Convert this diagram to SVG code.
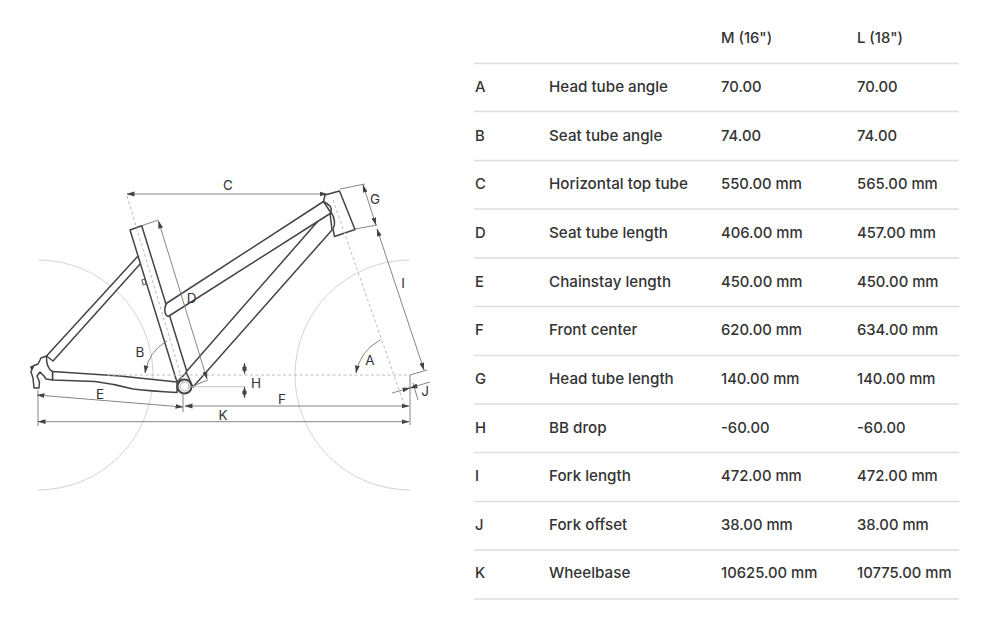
<svg xmlns="http://www.w3.org/2000/svg" width="1000" height="625" viewBox="0 0 1000 625">
<style>
text{font-family:"Inter","Liberation Sans",sans-serif;font-size:14.8px;font-weight:500;fill:#333}
.n{font-size:15.2px}
.lab{font-size:13.5px;font-weight:400;fill:#333;text-anchor:middle}
.rule{stroke:#ddd;stroke-width:1.3}
.wheel{fill:none;stroke:#d4d4d4;stroke-width:1}
.frame{fill:#fff;stroke:#444;stroke-width:1.5;stroke-linejoin:round}
.dash{fill:none;stroke:#bbb;stroke-width:1;stroke-dasharray:3 2.5}
.dim{fill:none;stroke:#777;stroke-width:.9}
.lite{fill:none;stroke:#bbb;stroke-width:.9}
.arr{marker-start:url(#a);marker-end:url(#a)}
.arre{marker-end:url(#a)}
</style>
<defs><marker id="a" viewBox="0 0 8 6" refX="7.500" refY="3" markerWidth="8" markerHeight="6" markerUnits="userSpaceOnUse" orient="auto-start-reverse"><path d="M0 .6L8 3L0 5.400z" fill="#444"/></marker></defs>
<rect width="1000" height="625" fill="#fff"/>
<g id="wheels">
<path class="wheel" d="M38 260A115 115 0 0 1 38 490"/>
<path class="wheel" d="M410 260A115 115 0 0 0 410 490"/>
</g>
<g id="frame">
<path class="frame" d="M138 256L141 263L53 361L46.500 356Z"/>
<path class="frame" d="M130 230L141.700 225.700L187 372L177 382Z"/>
<path class="frame" d="M318 221L186 372L193 387L332 230L330 213Z"/>
<path class="frame" d="M323.500 201.500L167 303Q164 307 165 312Q166 317 169 316L331 213Z"/>
<path class="frame" d="M325 195L339.500 191L355 229.500L334.500 236.500L333 229Q337 222 331 212Q333 206 323.500 201.500Z"/>
<path class="frame" d="M52.500 371.500L120 376L177 382L177 392.500Q150 391 133 389Q115 384 95 381.500L52.500 380Z"/>
<path class="frame" d="M46.500 356L41 358L38 364L33 366L31 372L33 378L34 388L39 388L39.500 382L37 376L40 372L44 376L46 379L52.500 380L52.500 371.500Q46 368 46.500 356Z"/>
<circle cx="32" cy="367.500" r="1.800" fill="#444"/>
<circle cx="184.500" cy="386.500" r="7" fill="#fff" stroke="#444" stroke-width="2"/>
<circle cx="184.500" cy="386.500" r="4.500" fill="none" stroke="#aaa" stroke-width="1"/>
<rect x="142.500" y="279.500" width="3" height="5" fill="none" stroke="#555" stroke-width="1" transform="rotate(-16 144 282)"/>
</g>
<g id="connectors">
<path class="dash" d="M127 196L184 386"/>
<path class="dash" d="M333 200L404 404"/>
<path class="dash" d="M107 375H407"/>
<path class="dim arr" d="M127 194H327"/>
<path class="dim" d="M141.700 225.700L158.500 220M193 386L208 380"/>
<path class="dim arr" d="M158.500 221L207 379"/>
<path class="dim arre" d="M167 341A45 45 0 0 0 145 373"/>
<path class="dim arr" d="M37 395L183 407"/>
<path class="dim" d="M38 390V426M183 392V412"/>
<path class="dim arr" d="M185 406H409"/>
<path class="dim arr" d="M38 421.700H409"/>
<path class="dim" d="M410 375V425"/>
<path class="lite" d="M189 386.700H245"/>
<path class="dim arr" d="M244.500 363V374"/>
<path class="dim arr" d="M244.500 386.700V398"/>
<path class="dim" d="M340 189L365 184M355 229L377 225"/>
<path class="dim arr" d="M363 185L376 225"/>
<path class="dim arr" d="M377 229L424 370"/>
<path class="dim" d="M410 375L427 370M413 383L418 400"/>
<path class="dim arre" d="M430 382L410 388"/>
<path class="dim arre" d="M392 393L410 388"/>
<path class="dim arre" d="M380 340A48 48 0 0 0 356 373"/>
</g>
<g id="labels">
<text class="lab" x="228" y="190">C</text>
<text class="lab" x="191.500" y="303">D</text>
<text class="lab" x="140" y="357">B</text>
<text class="lab" x="100" y="399">E</text>
<text class="lab" x="223" y="420">K</text>
<text class="lab" x="282" y="404">F</text>
<text class="lab" x="256" y="388">H</text>
<text class="lab" x="370" y="365">A</text>
<text class="lab" x="375" y="204">G</text>
<text class="lab" x="403" y="288">I</text>
<text class="lab" x="425" y="396">J</text>
</g>
<g id="table">
<path class="rule" d="M474 63.500H959M474 111.500H959M474 160.500H959M474 209H959M474 258H959M474 306.500H959M474 355.500H959M474 404H959M474 452.500H959M474 501.500H959M474 550H959M474 599H959"/>
<g transform="translate(0 -.5)">
<text x="721" y="43">M (16")</text><text x="857" y="43">L (18")</text>
<text x="475" y="92">A</text><text class="n" x="549" y="92">Head tube angle</text><text x="721" y="92">70.00</text><text x="857" y="92">70.00</text>
<text x="475" y="141">B</text><text class="n" x="549" y="141">Seat tube angle</text><text x="721" y="141">74.00</text><text x="857" y="141">74.00</text>
<text x="475" y="189">C</text><text class="n" x="549" y="189">Horizontal top tube</text><text x="721" y="189">550.00 mm</text><text x="857" y="189">565.00 mm</text>
<text x="475" y="238">D</text><text class="n" x="549" y="238">Seat tube length</text><text x="721" y="238">406.00 mm</text><text x="857" y="238">457.00 mm</text>
<text x="475" y="287">E</text><text class="n" x="549" y="287">Chainstay length</text><text x="721" y="287">450.00 mm</text><text x="857" y="287">450.00 mm</text>
<text x="475" y="335">F</text><text class="n" x="549" y="335">Front center</text><text x="721" y="335">620.00 mm</text><text x="857" y="335">634.00 mm</text>
<text x="475" y="384">G</text><text class="n" x="549" y="384">Head tube length</text><text x="721" y="384">140.00 mm</text><text x="857" y="384">140.00 mm</text>
<text x="475" y="433">H</text><text class="n" x="549" y="433">BB drop</text><text x="721" y="433">-60.00</text><text x="857" y="433">-60.00</text>
<text x="475" y="481">I</text><text class="n" x="549" y="481">Fork length</text><text x="721" y="481">472.00 mm</text><text x="857" y="481">472.00 mm</text>
<text x="475" y="530">J</text><text class="n" x="549" y="530">Fork offset</text><text x="721" y="530">38.00 mm</text><text x="857" y="530">38.00 mm</text>
<text x="475" y="578">K</text><text class="n" x="549" y="578">Wheelbase</text><text x="721" y="578">10625.00 mm</text><text x="857" y="578">10775.00 mm</text>
</g>
</g>
</svg>
